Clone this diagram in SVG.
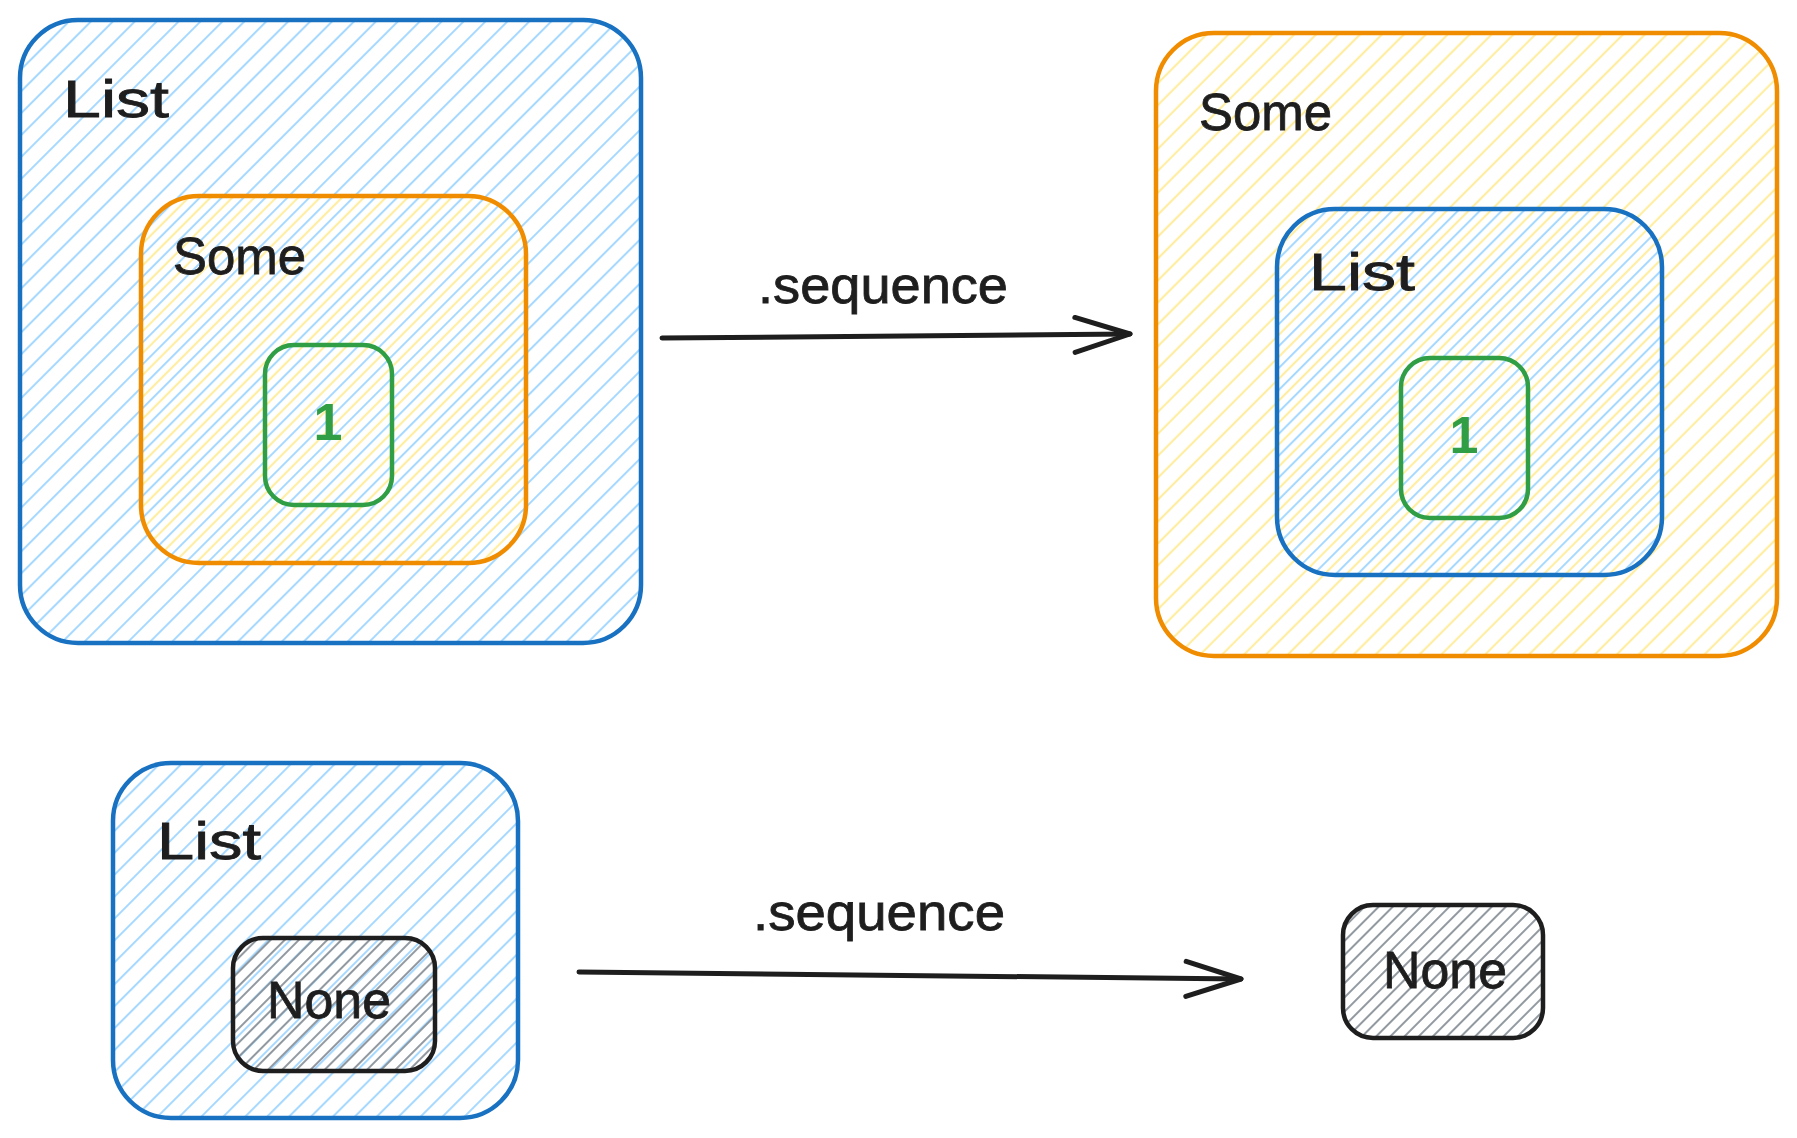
<svg xmlns="http://www.w3.org/2000/svg" width="1797" height="1138" viewBox="0 0 1797 1138">
<style>
.lbl{font-family:"Liberation Sans",Arial,sans-serif;font-size:52px;fill:#1e1e1e;stroke:#1e1e1e;stroke-width:0.8}
.num{font-family:"Liberation Sans",Arial,sans-serif;font-size:52px;font-weight:bold;fill:#2f9e44;text-anchor:middle}
.box{stroke-width:4.5;stroke-linejoin:round}
.blue{stroke:#1971c2;fill:url(#hBlue)}
.yellow{stroke:#f08c00;fill:url(#hYellow)}
.green{stroke:#2f9e44;fill:none}
.gray{stroke:#1e1e1e;fill:url(#hGray)}
.conn{fill:none;stroke:#1e1e1e;stroke-width:5;stroke-linecap:round;stroke-linejoin:round}
</style>
<defs>
<pattern id="hBlue" patternUnits="userSpaceOnUse" width="15.5" height="15.5" patternTransform="rotate(45)">
<line x1="2" y1="0" x2="2" y2="15.5" stroke="#a5d8ff" stroke-width="2"/>
</pattern>
<pattern id="hYellow" patternUnits="userSpaceOnUse" width="15.5" height="15.5" patternTransform="rotate(45)">
<line x1="9.5" y1="0" x2="9.5" y2="15.5" stroke="#ffec99" stroke-width="2"/>
</pattern>
<pattern id="hGray" patternUnits="userSpaceOnUse" width="10" height="10" patternTransform="rotate(45)">
<line x1="6" y1="0" x2="6" y2="10" stroke="#868e96" stroke-width="1.8"/>
</pattern>
<marker id="arrow" markerUnits="userSpaceOnUse" viewBox="-62 -25 70 50" refX="0" refY="0" markerWidth="70" markerHeight="50" orient="auto">
<path d="M-55,-17 L0,0 L-55,18" fill="none" stroke="#1e1e1e" stroke-width="5" stroke-linecap="round" stroke-linejoin="round"/>
</marker>
</defs>
<rect width="1797" height="1138" fill="#ffffff"/>

<g id="list-top-left">
<rect class="box blue" x="20" y="20" width="621" height="623" rx="58"/>
<text class="lbl" x="63" y="117" textLength="106" lengthAdjust="spacingAndGlyphs">List</text>
</g>
<g id="some-top-left">
<rect class="box yellow" x="141" y="196" width="385" height="367" rx="58"/>
<text class="lbl" x="173" y="274" textLength="133" lengthAdjust="spacingAndGlyphs">Some</text>
</g>
<g id="one-top-left">
<rect class="box green" x="265" y="345" width="127" height="160" rx="29"/>
<text class="num" x="328" y="440">1</text>
</g>

<g id="some-top-right">
<rect class="box yellow" x="1156" y="33" width="621" height="623" rx="58"/>
<text class="lbl" x="1199" y="130" textLength="133" lengthAdjust="spacingAndGlyphs">Some</text>
</g>
<g id="list-top-right">
<rect class="box blue" x="1277" y="209" width="385" height="366" rx="58"/>
<text class="lbl" x="1309" y="290" textLength="106" lengthAdjust="spacingAndGlyphs">List</text>
</g>
<g id="one-top-right">
<rect class="box green" x="1401" y="358" width="127" height="160" rx="29"/>
<text class="num" x="1464" y="453">1</text>
</g>

<g id="list-bottom-left">
<rect class="box blue" x="113" y="763" width="405" height="355" rx="58"/>
<text class="lbl" x="157" y="859" textLength="104" lengthAdjust="spacingAndGlyphs">List</text>
</g>
<g id="none-bottom-left">
<rect class="box gray" x="233" y="938" width="202" height="133" rx="30"/>
<text class="lbl" x="267" y="1018" textLength="124" lengthAdjust="spacingAndGlyphs">None</text>
</g>
<g id="none-bottom-right">
<rect class="box gray" x="1343" y="905" width="200" height="133" rx="30"/>
<text class="lbl" x="1383" y="988" textLength="124" lengthAdjust="spacingAndGlyphs">None</text>
</g>

<g id="connectors">
<path class="conn" d="M662,338 L1130,334" marker-end="url(#arrow)"/>
<text class="lbl" x="758" y="303" textLength="250" lengthAdjust="spacingAndGlyphs">.sequence</text>
<path class="conn" d="M579,972 L1241,979" marker-end="url(#arrow)"/>
<text class="lbl" x="753" y="930" textLength="252" lengthAdjust="spacingAndGlyphs">.sequence</text>
</g>
</svg>
